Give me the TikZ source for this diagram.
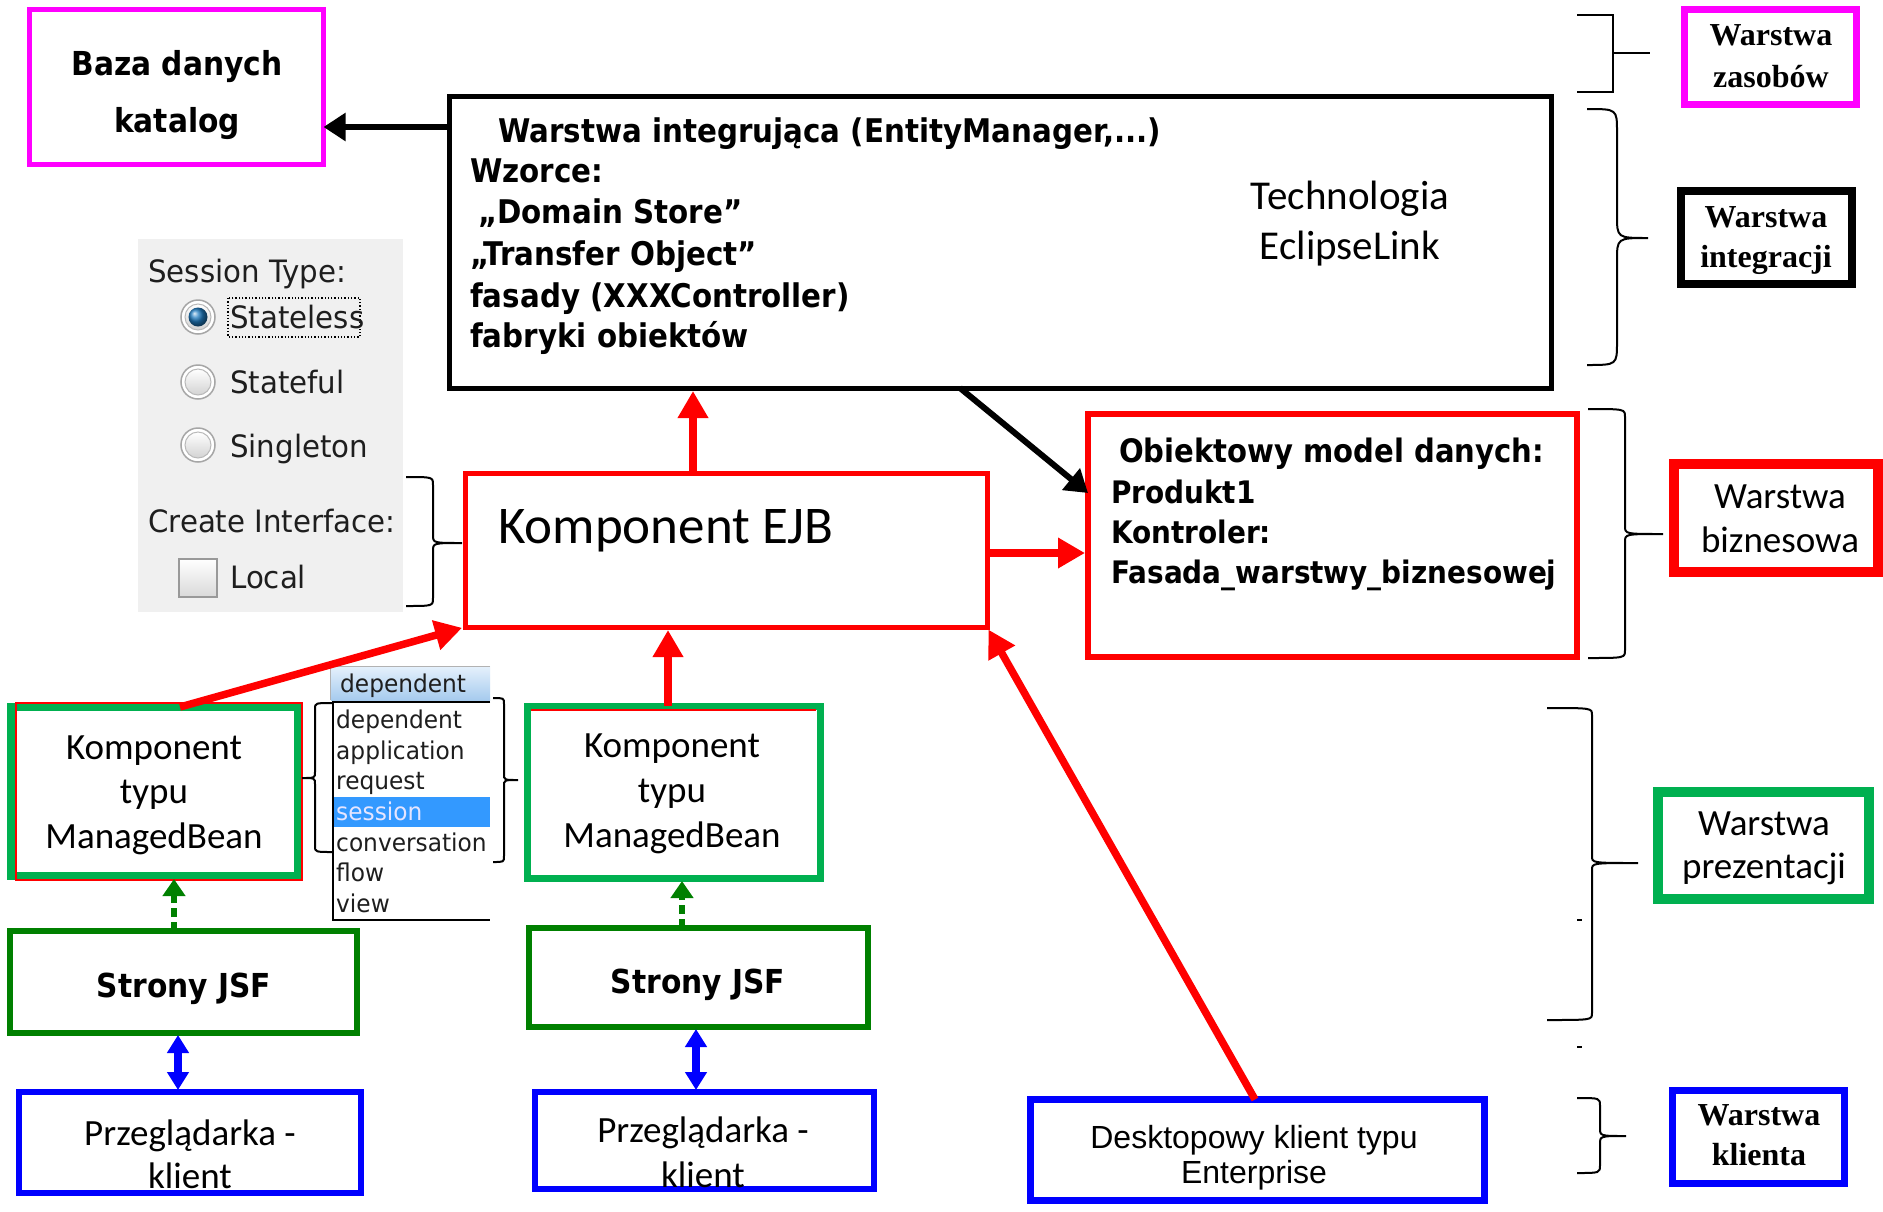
\documentclass[tikz,border=0pt]{standalone}
\usepackage{fontspec}
\usetikzlibrary{arrows.meta}
\newfontfamily\fTah[FakeStretch=0.9]{DejaVu Sans}
\newfontfamily\fTahR[FakeStretch=0.95]{DejaVu Sans}
\newfontfamily\fCal{Carlito}
\newfontfamily\fAri{Liberation Sans}
\newfontfamily\fTim{Liberation Serif}
\definecolor{mag}{HTML}{FF00FF}
\definecolor{grn}{HTML}{00B050}
\definecolor{dkgrn}{HTML}{008000}
\definecolor{blu}{HTML}{0000FF}
\definecolor{rd}{HTML}{FF0000}
\definecolor{panelgray}{HTML}{F0F0F0}
\definecolor{hdrtop}{HTML}{E6F1FC}
\definecolor{hdrbot}{HTML}{A6CBEE}
\definecolor{selblue}{HTML}{3399FF}
\definecolor{radioblue}{HTML}{1F7BC0}
\definecolor{paneltext}{HTML}{1E1E1E}
\newcommand\bracepath[7]{\draw[bracestyle] (#1,#4) .. controls (#2,#4) .. (#2,#4+#7) -- (#2,#5-#7) .. controls (#2,#5) .. (#3,#5) .. controls (#2,#5) .. (#2,#5+#7) -- (#2,#6-#7) .. controls (#2,#6) .. (#1,#6);}
\begin{document}
\begin{tikzpicture}[x=1pt,y=-1pt,
  box/.style={draw, inner sep=0pt, outer sep=0pt},
  bracestyle/.style={draw=black, line width=2pt},
  blk/.style={draw=black, line width=6pt, -{Triangle[length=22pt,width=27pt]}},
  redar/.style={draw=rd, line width=7.5pt, shorten >=3pt, -{Triangle[length=27pt,width=29pt]}},
  grdash/.style={draw=dkgrn, line width=6.5pt, dash pattern=on 9pt off 5pt, shorten >=3pt, -{Triangle[length=17pt,width=22pt]}},
  bluear/.style={draw=blu, line width=7.5pt, shorten >=2pt, shorten <=2pt, {Triangle[length=18pt,width=21pt]}-{Triangle[length=18pt,width=21pt]}},
  tb/.style={inner sep=0pt, anchor=base west, font=\fTah\bfseries\fontsize{32.6}{38}\selectfont},
  tbc/.style={inner sep=0pt, anchor=base, font=\fTah\bfseries\fontsize{33}{38}\selectfont},
  tob/.style={inner sep=0pt, anchor=base west, font=\fTah\bfseries\fontsize{31}{38}\selectfont},
  cal/.style={inner sep=0pt, anchor=base, font=\fCal\fontsize{37}{44}\selectfont},
  calp/.style={inner sep=0pt, anchor=base, font=\fCal\fontsize{37}{44}\selectfont},
  ari/.style={inner sep=0pt, anchor=base, font=\fAri\fontsize{32}{38}\selectfont},
  tim/.style={inner sep=0pt, anchor=base, font=\fTim\bfseries\fontsize{32}{38}\selectfont},
  pan/.style={inner sep=0pt, anchor=base west, text=paneltext, font=\fTahR\fontsize{30.8}{36}\selectfont},
  dd/.style={inner sep=0pt, anchor=base west, text=paneltext, font=\fTahR\fontsize{24.5}{28}\selectfont}
]
\useasboundingbox (0,0) rectangle (1883,1211);
\fill[white] (0,0) rectangle (1883,1211);

% ---------- session type panel ----------
\fill[panelgray] (138,239) rectangle (403,612);
\foreach \yy in {317,382,445}{
  \draw[line width=1.5pt, draw=gray!70, fill=white] (198,\yy) circle[radius=17pt];
  \shade[top color=white, bottom color=gray!35] (198,\yy) circle[radius=13pt];
  \draw[line width=1pt, draw=gray!55] (198,\yy) circle[radius=13pt];
}
\shade[ball color=radioblue] (198,317) circle[radius=9.5pt];
\draw[line width=1.5pt, draw=gray!80, top color=white, bottom color=gray!30] (179,559) rectangle (217,597);
\draw[line width=1.3pt, dotted] (228,298) rectangle (360,337);
\node[pan] (tSess) at (148,282) {Session Type:};
\node[pan] (tStl) at (230,328) {Stateless};
\node[pan] (tStf) at (230,393) {Stateful};
\node[pan] (tSgl) at (230,457) {Singleton};
\node[pan] (tCre) at (148,532) {Create Interface:};
\node[pan] (tLoc) at (230,588) {Local};

% ---------- boxes ----------
\node[box, draw=mag, line width=5pt, minimum width=294pt, minimum height=155pt] (baza) at (176.5,87) {};
\node[box, draw=black, line width=5pt, minimum width=1102pt, minimum height=292pt] (integ) at (1000,242) {};
\node[box, draw=rd, line width=5pt, minimum width=522pt, minimum height=154pt] (ejb) at (726,550) {};
\node[box, draw=rd, line width=6pt, minimum width=489pt, minimum height=243pt] (obj) at (1332.5,535.5) {};
\node[box, draw=grn, line width=8pt, minimum width=287pt, minimum height=169pt] (mb1) at (154.5,791.5) {};
\draw[rd, line width=1.2pt] (16,703) rectangle (302,880);
\node[box, draw=grn, line width=7pt, minimum width=293pt, minimum height=172pt] (mb2) at (673.5,792) {};
\draw[rd, line width=1.5pt] (531,710) -- (816,710);
\node[box, draw=dkgrn, line width=6pt, minimum width=347pt, minimum height=102pt] (jsf1) at (183.5,982) {};
\node[box, draw=dkgrn, line width=6pt, minimum width=339pt, minimum height=99pt] (jsf2) at (698.5,977.5) {};
\node[box, draw=blu, line width=6pt, minimum width=342pt, minimum height=101pt] (prz1) at (190,1142.5) {};
\node[box, draw=blu, line width=6pt, minimum width=339pt, minimum height=97pt] (prz2) at (704.5,1140.5) {};
\node[box, draw=blu, line width=7pt, minimum width=454pt, minimum height=101pt] (desk) at (1257.5,1150) {};
\node[box, draw=mag, line width=7pt, minimum width=172pt, minimum height=95pt] (wz) at (1770.5,57) {};
\node[box, draw=black, line width=8pt, minimum width=171pt, minimum height=93pt] (wi) at (1766.5,237.5) {};
\node[box, draw=rd, line width=10pt, minimum width=204pt, minimum height=108pt] (wb) at (1776,518) {};
\node[box, draw=grn, line width=10pt, minimum width=211pt, minimum height=107pt] (wp) at (1763.5,845.5) {};
\node[box, draw=blu, line width=7pt, minimum width=172pt, minimum height=93pt] (wk) at (1758.5,1137) {};

% ---------- dropdown ----------
\shade[top color=hdrtop, bottom color=hdrbot] (331,666) rectangle (490,700);
\draw[gray!60, line width=1pt] (330,700) -- (330,666) -- (490,666);
\fill[white] (333,702) rectangle (490,920);
\fill[selblue] (334,797) rectangle (490,827);
\draw[black, line width=1.5pt] (490,702) -- (333,702) -- (333,920) -- (490,920);
\node[dd] (dHead) at (340,692) {dependent};
\node[dd] (d1) at (336,728) {dependent};
\node[dd] (d2) at (336,759) {application};
\node[dd] (d3) at (336,789) {request};
\node[dd, text=white!90!blue] (d4) at (336,820) {session};
\node[dd] (d5) at (336,851) {conversation};
\node[dd] (d6) at (336,881) {flow};
\node[dd] (d7) at (336,912) {view};

% ---------- connectors ----------
\coordinate (cA) at (0,127);
\coordinate (cB1) at (960,0);
\coordinate (cB2) at (0,493);
\coordinate (cC) at (693,0);
\coordinate (cD) at (0,553);
\coordinate (cE) at (180,0);
\coordinate (cF) at (668,0);
\coordinate (cG) at (1255,0);
\coordinate (cH) at (174,0);
\coordinate (cI) at (682,0);
\coordinate (cJ) at (178,0);
\coordinate (cK) at (696,0);
\draw[blk] (integ.west |- cA) -- (baza.east |- cA);
\draw[blk] (integ.south -| cB1) -- (obj.west |- cB2);
\draw[redar] (ejb.north -| cC) -- (integ.south -| cC);
\draw[redar] (ejb.east |- cD) -- (obj.west |- cD);
\draw[redar] (mb1.north -| cE) -- (ejb.south west);
\draw[redar] (mb2.north -| cF) -- (ejb.south -| cF);
\draw[redar] (desk.north -| cG) -- (ejb.south east);
\draw[grdash] (jsf1.north -| cH) -- (mb1.south -| cH);
\draw[grdash] (jsf2.north -| cI) -- (mb2.south -| cI);
\draw[bluear] (jsf1.south -| cJ) -- (prz1.north -| cJ);
\draw[bluear] (jsf2.south -| cK) -- (prz2.north -| cK);

% ---------- texts ----------
\node[tbc] (tB1) at (177,75) {Baza danych};
\node[tbc] (tB2) at (177,132) {katalog};
\node[tb] (tI1) at (498,142) {Warstwa integrująca (EntityManager,...)};
\node[tb] (tI2) at (470,182) {Wzorce:};
\node[tb] (tI3) at (478,223) {„Domain Store”};
\node[tb] (tI4) at (470,265) {„Transfer Object”};
\node[tb] (tI5) at (470,307) {fasady (XXXController)};
\node[tb] (tI6) at (470,347) {fabryki obiektów};
\node[cal, font=\fCal\fontsize{41}{50}\selectfont] (tT1) at (1350,209) {Technologia};
\node[cal, font=\fCal\fontsize{41}{50}\selectfont] (tT2) at (1350,259) {EclipseLink};
\node[tob, font=\fTah\bfseries\fontsize{32.3}{38}\selectfont] (tO1) at (1119,462) {Obiektowy model danych:};
\node[tob] (tO2) at (1111,503) {Produkt1};
\node[tob] (tO3) at (1111,543) {Kontroler:};
\node[tob] (tO4) at (1111,583) {Fasada\_warstwy\_biznesowej};
\node[cal, anchor=base west, font=\fCal\fontsize{53}{60}\selectfont] (tEJB) at (498,543) {Komponent EJB};
\node[cal] (tM1a) at (154,759) {Komponent};
\node[cal] (tM1b) at (154,803) {typu};
\node[cal] (tM1c) at (154,848) {ManagedBean};
\node[cal] (tM2a) at (672,757) {Komponent};
\node[cal] (tM2b) at (672,802) {typu};
\node[cal] (tM2c) at (672,847) {ManagedBean};
\node[tbc] (tJ1) at (184,997) {Strony JSF};
\node[tbc] (tJ2) at (698,993) {Strony JSF};
\node[calp] (tP1a) at (190,1145) {Przeglądarka -};
\node[calp] (tP1b) at (190,1188) {klient};
\node[calp] (tP2a) at (703,1142) {Przeglądarka -};
\node[calp] (tP2b) at (703,1187) {klient};
\node[ari] (tD1) at (1254,1148) {Desktopowy klient typu};
\node[ari] (tD2) at (1254,1183) {Enterprise};
\node[tim] (tWz1) at (1771,45) {Warstwa};
\node[tim] (tWz2) at (1771,87) {zasobów};
\node[tim] (tWi1) at (1766,227) {Warstwa};
\node[tim] (tWi2) at (1766,267) {integracji};
\node[cal] (tWb1) at (1780,508) {Warstwa};
\node[cal] (tWb2) at (1780,552) {biznesowa};
\node[cal] (tWp1) at (1764,835) {Warstwa};
\node[cal] (tWp2) at (1764,878) {prezentacji};
\node[tim] (tWk1) at (1759,1125) {Warstwa};
\node[tim] (tWk2) at (1759,1165) {klienta};

% ---------- braces ----------
\bracepath{406}{433}{462}{477}{543}{606}{8}
\bracepath{333}{315}{302}{703}{778}{852}{6}
\bracepath{493}{504}{518}{698}{780}{862}{6}
\bracepath{1587}{1617}{1648}{109}{238}{365}{23}
\bracepath{1588}{1625}{1663}{409}{534}{658}{8}
\bracepath{1547}{1592}{1638}{708}{863}{1020}{7}
\bracepath{1577}{1600}{1626}{1098}{1136}{1173}{8}
\draw[bracestyle] (1577,15) -- (1613,15) -- (1613,92) -- (1577,92);
\draw[bracestyle] (1613,53) -- (1650,53);
\draw[line width=1.5pt] (1577,920) -- (1582,920);
\draw[line width=1.5pt] (1577,1047) -- (1582,1047);
\end{tikzpicture}
\end{document}
